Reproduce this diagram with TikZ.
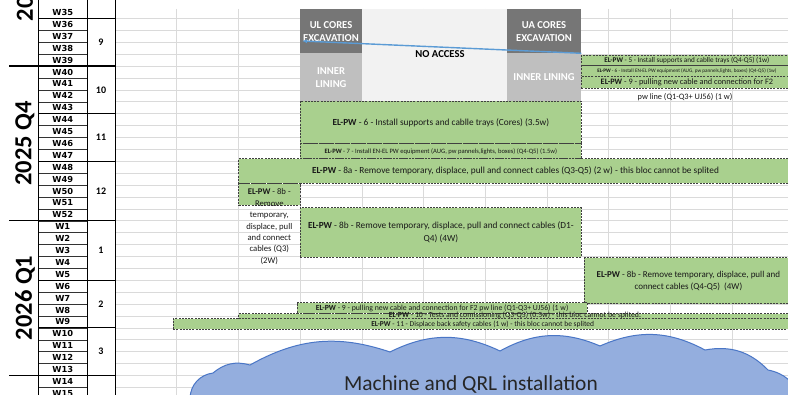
\documentclass[tikz,border=0pt]{standalone}
\usepackage{fontspec}
\setmainfont{Carlito}
\newfontfamily\weekfont{DejaVu Sans}
\usepackage{xcolor}
\usepackage{tikz}
\usetikzlibrary{arrows.meta}

\definecolor{taskgreen}{HTML}{A9D08E}
\definecolor{coregray}{HTML}{767676}
\definecolor{liningray}{HTML}{BFBFBF}
\definecolor{noaccgray}{HTML}{F2F2F2}
\definecolor{cellgray}{HTML}{DADADA}
\definecolor{cloudblue}{HTML}{94AEDE}
\definecolor{cloudedge}{HTML}{4A76C6}
\definecolor{arrowblue}{HTML}{5B9BD5}

\begin{document}
\begin{tikzpicture}[
    x=1pt, y=-1pt,
    cell/.style={draw=cellgray, line width=0.6pt},
    weekline/.style={draw=black!80, line width=0.5pt},
    monthline/.style={draw=black, line width=0.9pt},
    quarterline/.style={draw=black, line width=1.2pt},
    tableline/.style={draw=black, line width=0.9pt},
    week/.style={inner sep=0pt, font=\weekfont\bfseries\fontsize{8.3}{10}\selectfont},
    month/.style={inner sep=0pt, font=\fontsize{10}{11}\selectfont\bfseries},
    quarter/.style={rotate=90, inner sep=0pt, font=\fontsize{24.5}{27}\selectfont\bfseries},
    core/.style={rectangle, anchor=north west, inner sep=0pt, fill=coregray, text=white,
                 align=center, font=\fontsize{10.6}{13}\selectfont\bfseries},
    lining/.style={core, fill=liningray},
    task/.style={rectangle, anchor=north west, inner sep=0pt, fill=taskgreen,
                 draw=black!75, line width=0.8pt, dash pattern=on 2pt off 1.2pt,
                 align=center, text=black!90},
    note/.style={inner sep=0pt, align=center, text=black!90},
    cloudshape/.style={fill=cloudblue, draw=cloudedge, line width=1pt},
    arr/.style={-{Latex[length=5pt, width=4pt]}, line width=1.4pt, arrowblue}
  ]
    \useasboundingbox (0,0) rectangle (788,395);
    \clip (0,0) rectangle (788,395);
    \fill[white] (0,0) rectangle (788,395);

    %% ── Sheet grid
    \foreach \c in {0,...,11}
      \draw[cell] (115+61.7*\c, 9) -- (115+61.7*\c, 395);
    \foreach \r in {1,...,32}
      \draw[cell] (115, 6.6+11.9*\r) -- (788, 6.6+11.9*\r);

    %% ── Week / month / quarter table
    \foreach \r in {1,...,32}
      \draw[weekline] (38.3, 6.6+11.9*\r) -- (87.3, 6.6+11.9*\r);
    \foreach \r in {1,9,13,23,27}
      \draw[monthline] (38.3, 6.6+11.9*\r) -- (115, 6.6+11.9*\r);
    \foreach \r in {5,18,31}
      \draw[quarterline] (9, 6.6+11.9*\r) -- (115, 6.6+11.9*\r);
    \draw[tableline] (38.3,0) -- (38.3,395);
    \draw[tableline] (87.3,0) -- (87.3,395);
    \draw[tableline] (115,0) -- (115,395);

    \foreach \w [count=\i from 0] in {W35,W36,W37,W38,W39,W40,W41,W42,W43,W44,W45,W46,W47,W48,W49,W50,W51,W52,W1,W2,W3,W4,W5,W6,W7,W8,W9,W10,W11,W12,W13,W14,W15}
      \node[week] (wk\i) at (62.8, 12.55+11.9*\i) {\w};

    \node[month] (m9)  at (101, 42.3)  {9};
    \node[month] (m10) at (101, 89.9)  {10};
    \node[month] (m11) at (101, 137.5) {11};
    \node[month] (m12) at (101, 191.0) {12};
    \node[month] (m1)  at (101, 250.6) {1};
    \node[month] (m2)  at (101, 304.1) {2};
    \node[month] (m3)  at (101, 351.7) {3};

    \node[quarter, anchor=west] (q3) at (25, 21.5) {20};
    \node[quarter] (q4) at (25, 143.5) {2025 Q4};
    \node[quarter] (q1) at (25, 298.0) {2026 Q1};

    %% ── Civil works blocks
    \node[core, minimum width=61.7, minimum height=44] (ul) at (300, 9.3) {UL CORES\\EXCAVATION};
    \node[core, fill=noaccgray, minimum width=145, minimum height=91.4] (noacc) at (361.7, 9.3) {};
    \node[core, minimum width=74.3, minimum height=44] (ua) at (506.7, 9.3) {UA CORES\\EXCAVATION};
    \node[lining, minimum width=61.7, minimum height=47.4] (inl) at (300, 53.3) {INNER\\LINING};
    \node[lining, minimum width=74.3, minimum height=47.4] (inr) at (506.7, 53.3) {INNER LINING};
    \node[note, text=black, font=\fontsize{10.6}{12}\selectfont\bfseries] (noacctxt) at (440, 54) {NO ACCESS};

    %% ── EL-PW tasks, right column
    \node[task, minimum width=211, minimum height=10.3, font=\fontsize{7.2}{8}\selectfont] (t5) at (581, 55)
      {\textbf{EL-PW} - 5 - Install supports and cablle trays (Q4-Q5) (1w)};
    \node[task, minimum width=211, minimum height=10.4, font=\fontsize{5.2}{6}\selectfont] (t6s) at (581, 65.3)
      {\textbf{EL-PW} - 6 - Install  EN-EL PW equipment (AUG, pw pannels,lights, boxes) (Q4-Q5) (1w)};
    \node[task, minimum width=211, minimum height=12.3, font=\fontsize{8.3}{9.5}\selectfont] (t9r) at (581, 75.7)
      {\textbf{EL-PW} - 9 - pulling new cable and connection for F2};
    \node[note, font=\fontsize{8.3}{9.5}\selectfont] (t9rb) at (685, 96.7) {pw line (Q1-Q3+ UJ56) (1 w)};

    %% ── EL-PW tasks, cores
    \node[task, minimum width=281, minimum height=42.6, font=\fontsize{9.3}{11}\selectfont] (t6c) at (300, 100.7)
      {\textbf{EL-PW} - 6 - Install supports and cablle trays (Cores) (3.5w)};
    \node[task, minimum width=281, minimum height=15, font=\fontsize{6.6}{7.5}\selectfont] (t7) at (300, 143.3)
      {\textbf{EL-PW} - 7 - Install  EN-EL PW equipment (AUG, pw pannels,lights, boxes) (Q4-Q5) (1.5w)};
    \node[task, minimum width=553.7, minimum height=24.4, font=\fontsize{9.3}{11}\selectfont] (t8a) at (238.3, 158.3)
      {\textbf{EL-PW} - 8a - Remove temporary, displace, pull and connect cables (Q3-Q5) (2 w) - this bloc cannot be splited};

    \node[task, minimum width=61.7, minimum height=21.7] (t8bs) at (238.3, 183.3) {};
    \node[note, anchor=north, font=\fontsize{8.7}{11.4}\selectfont] (t8bstxt) at (269.3, 188.6)
      {\textbf{EL-PW} - 8b -\\Remove\\temporary,\\displace, pull\\and connect\\cables (Q3)\\(2W)};

    \node[task, minimum width=281, minimum height=49.4, font=\fontsize{9.3}{13}\selectfont] (t8bd) at (300, 207.3)
      {\textbf{EL-PW} - 8b - Remove temporary, displace, pull and connect cables (D1-\\Q4) (4W)};
    \node[task, minimum width=208, minimum height=46, font=\fontsize{9}{12}\selectfont] (t8bq) at (584, 257.3)
      {\textbf{EL-PW} - 8b - Remove temporary, displace, pull and\\connect cables (Q4-Q5)\ \ (4W)};

    %% ── EL-PW tasks, bottom strips
    \node[task, minimum width=290, minimum height=10.4, font=\fontsize{7.8}{9}\selectfont] (t9b) at (296.7, 302.3)
      {\textbf{EL-PW} - 9 - pulling new cable and connection for F2 pw line (Q1-Q3+ UJ56) (1 w)};
    \node[task, minimum width=619.3, minimum height=10.5, font=\fontsize{7.5}{8.5}\selectfont] (t11) at (172.7, 318.5)
      {\textbf{EL-PW} - 11 - Displace back safety cables (1 w) - this bloc cannot be splited};
    \node[task, minimum width=553.7, minimum height=5] (t10) at (238.3, 313.5) {};
    \node[note, font=\fontsize{7.8}{9}\selectfont] (t10txt) at (515, 315.8)
      {\textbf{EL-PW} - 10 - Tests and comissioning (Q3-Q5) (0.5w) - this bloc cannot be splited.};

    %% Arrow: UA side back to UL side
    \coordinate (ulEnd) at (302, 41);
    \draw[arr] (inr.north east) -- (ulEnd);

    %% ── Machine installation cloud
    \draw[cloudshape] (190,398) to[bend left=40] (213,373) to[bend left=28] (250,365)
        to[bend left=24] (390,352) to[bend left=26] (500,351) to[bend left=26] (600,346)
        to[bend left=26] (705,350) to[bend left=28] (768,370) to[bend left=30] (800,398) -- cycle;
    \node[note, text=black!85, font=\fontsize{21.4}{24}\selectfont] (cloudtxt) at (471, 384.5)
      {Machine and QRL installation};

\end{tikzpicture}
\end{document}
